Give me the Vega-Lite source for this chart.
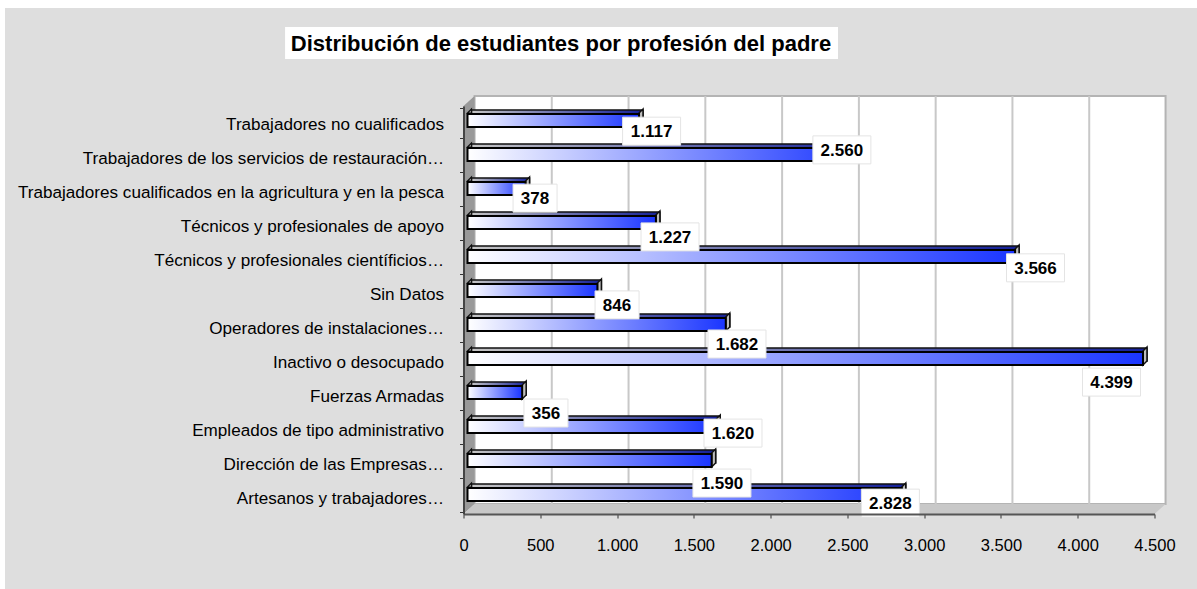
{
"$schema":"https://vega.github.io/schema/vega-lite/v6.json",
"width":691,"height":408,
"autosize":{"type":"none"},
"padding":{"left":463.5,"top":106,"right":42.5,"bottom":75},
"background":"#ffffff",
"config":{"view":{"stroke":null},"font":"Liberation Sans","locale":{"number":{"decimal":",","thousands":".","grouping":[3],"currency":["","€"]}}},
"title":{"text":"Distribución de estudiantes por profesión del padre","font":"Liberation Sans","fontSize":22,"fontWeight":"bold","color":"#000000","anchor":"middle","dx":-248,"dy":52,"zindex":1},
"datasets":{
"prof":[
{"profesion":"Trabajadores no cualificados","estudiantes":1117},
{"profesion":"Trabajadores de los servicios de restauración…","estudiantes":2560},
{"profesion":"Trabajadores cualificados en la agricultura y en la pesca","estudiantes":378},
{"profesion":"Técnicos y profesionales de apoyo","estudiantes":1227},
{"profesion":"Técnicos y profesionales científicios…","estudiantes":3566},
{"profesion":"Sin Datos","estudiantes":846},
{"profesion":"Operadores de instalaciones…","estudiantes":1682},
{"profesion":"Inactivo o desocupado","estudiantes":4399},
{"profesion":"Fuerzas Armadas","estudiantes":356},
{"profesion":"Empleados de tipo administrativo","estudiantes":1620},
{"profesion":"Dirección de las Empresas…","estudiantes":1590},
{"profesion":"Artesanos y trabajadores…","estudiantes":2828}
],
"etiquetas":[
{"valor":1117,"en_x":1225,"en_y":11.26},
{"valor":2560,"en_x":2464,"en_y":10.71},
{"valor":378,"en_x":466,"en_y":9.29},
{"valor":1227,"en_x":1345,"en_y":8.15},
{"valor":3566,"en_x":3725,"en_y":7.24},
{"valor":846,"en_x":1000,"en_y":6.15},
{"valor":1682,"en_x":1781,"en_y":5.0},
{"valor":4399,"en_x":4220,"en_y":3.88},
{"valor":356,"en_x":537,"en_y":2.97},
{"valor":1620,"en_x":1755,"en_y":2.38},
{"valor":1590,"en_x":1683,"en_y":0.91},
{"valor":2828,"en_x":2780,"en_y":0.32}
],
"fondo":[{"x":-2986,"x2":4777,"y":-2.21,"y2":14.88}],
"marcoTitulo":[{"x":-1162,"x2":2439,"y":13.38,"y2":14.32}],
"pared":[{"x":72,"x2":4572,"y":0.294,"y2":12.294}],
"rejilla":[{"x":500},{"x":1000},{"x":1500},{"x":2000},{"x":2500},{"x":3000},{"x":3500},{"x":4000}],
"lateral":[{"x":0,"y":0,"y2":12},{"x":72,"y":0.294,"y2":12.294}],
"suelo":[{"x":0,"y":0,"y2":0},{"x":72,"y":0,"y2":0.294},{"x":4500,"y":0,"y2":0.294},{"x":4572,"y":0.294,"y2":0.294}]
},
"resolve":{"scale":{"y":"independent"}},
"layer":[
{
"layer":[
{"data":{"name":"fondo"},"mark":{"type":"rect","fill":"#dedede"},"encoding":{"x":{"field":"x","type":"quantitative","title":null,"scale":{"domain":[0,4500],"nice":false,"zero":false},"axis":{"zindex":1,"values":[0,500,1000,1500,2000,2500,3000,3500,4000,4500],"format":",d","grid":false,"tickSize":4,"tickColor":"#333333","domainColor":"#555555","domainWidth":2,"labelColor":"#000000","labelFont":"Liberation Sans","labelFontSize":16.5,"labelPadding":19,"labelFlush":false}},"x2":{"field":"x2"},"y":{"field":"y","type":"quantitative","scale":{"domain":[0,12],"nice":false,"zero":false},"axis":null},"y2":{"field":"y2"}}},
{"data":{"name":"marcoTitulo"},"mark":{"type":"rect","fill":"#ffffff"},"encoding":{"x":{"field":"x","type":"quantitative"},"x2":{"field":"x2"},"y":{"field":"y","type":"quantitative"},"y2":{"field":"y2"}}},
{"data":{"name":"pared"},"mark":{"type":"rect","fill":"#ffffff","stroke":"#b4b4b4","strokeWidth":2},"encoding":{"x":{"field":"x","type":"quantitative"},"x2":{"field":"x2"},"y":{"field":"y","type":"quantitative"},"y2":{"field":"y2"}}},
{"data":{"name":"rejilla"},"mark":{"type":"rule","color":"#c8c8c8","strokeWidth":2,"xOffset":11.5},"encoding":{"x":{"field":"x","type":"quantitative"},"y":{"datum":0.294,"type":"quantitative"},"y2":{"datum":12.294}}},
{"data":{"name":"lateral"},"mark":{"type":"area","orient":"vertical","fill":"#999999"},"encoding":{"x":{"field":"x","type":"quantitative"},"y":{"field":"y","type":"quantitative"},"y2":{"field":"y2"}}},
{"data":{"name":"suelo"},"mark":{"type":"area","orient":"vertical","fill":"#c8c8c8"},"encoding":{"x":{"field":"x","type":"quantitative"},"y":{"field":"y","type":"quantitative"},"y2":{"field":"y2"}}}
]
},
{
"data":{"name":"prof"},
"encoding":{
"y":{"field":"profesion","type":"nominal","sort":null,"title":null,"axis":{"orient":"left","zindex":1,"tickBand":"extent","tickSize":4,"tickColor":"#333333","domainColor":"#444444","domainWidth":2,"labelColor":"#000000","labelFont":"Liberation Sans","labelFontSize":17.1,"labelPadding":16,"labelOffset":1,"labelLimit":500}}
},
"layer":[
{"mark":{"type":"bar","height":13,"xOffset":8,"x2Offset":8,"yOffset":-6.5,"stroke":"#111111","strokeWidth":1.5,"fill":{"gradient":"linear","x1":0,"y1":0,"x2":1,"y2":0,"stops":[{"offset":0,"color":"#c4c4c4"},{"offset":1,"color":"#14209a"}]}},
"encoding":{"x":{"field":"estudiantes","type":"quantitative"},"x2":{"datum":0}}},
{"mark":{"type":"point","filled":true,"fill":"#bdbdbd","stroke":"#111111","strokeWidth":1.5,"opacity":1,"size":4,"shape":"M4,-10 L8,-14 L8,0 L4,4 Z"},"encoding":{"x":{"field":"estudiantes","type":"quantitative"}}},
{"mark":{"type":"point","filled":true,"fill":"#b0b0b0","stroke":"#111111","strokeWidth":1.2,"opacity":1,"size":4,"shape":"M4,-10 L8,-14 L8,-10 Z"},"encoding":{"x":{"datum":0,"type":"quantitative"}}},
{"mark":{"type":"bar","height":13,"xOffset":4,"x2Offset":4,"yOffset":-2.5,"stroke":"#000000","strokeWidth":2,"fill":{"gradient":"linear","x1":0,"y1":0,"x2":1,"y2":0,"stops":[{"offset":0,"color":"#ffffff"},{"offset":1,"color":"#1a35ff"}]}},
"encoding":{"x":{"field":"estudiantes","type":"quantitative"},"x2":{"datum":0}}}
]
},
{
"data":{"name":"etiquetas"},
"encoding":{"x":{"field":"en_x","type":"quantitative"},"y":{"field":"en_y","type":"quantitative","scale":{"domain":[0,12],"nice":false,"zero":false},"axis":null}},
"layer":[
{"transform":[{"filter":"datum.valor>=1000"}],"mark":{"type":"rect","width":58,"height":28,"fill":"#ffffff","stroke":"#e4e4e4"}},
{"transform":[{"filter":"datum.valor<1000"}],"mark":{"type":"rect","width":44,"height":28,"fill":"#ffffff","stroke":"#e4e4e4"}},
{"mark":{"type":"text","font":"Liberation Sans","fontSize":17,"fontWeight":"bold","color":"#000000","align":"center","baseline":"middle","dy":1},"encoding":{"text":{"field":"valor","type":"quantitative","format":",d"}}}
]
}
]
}
